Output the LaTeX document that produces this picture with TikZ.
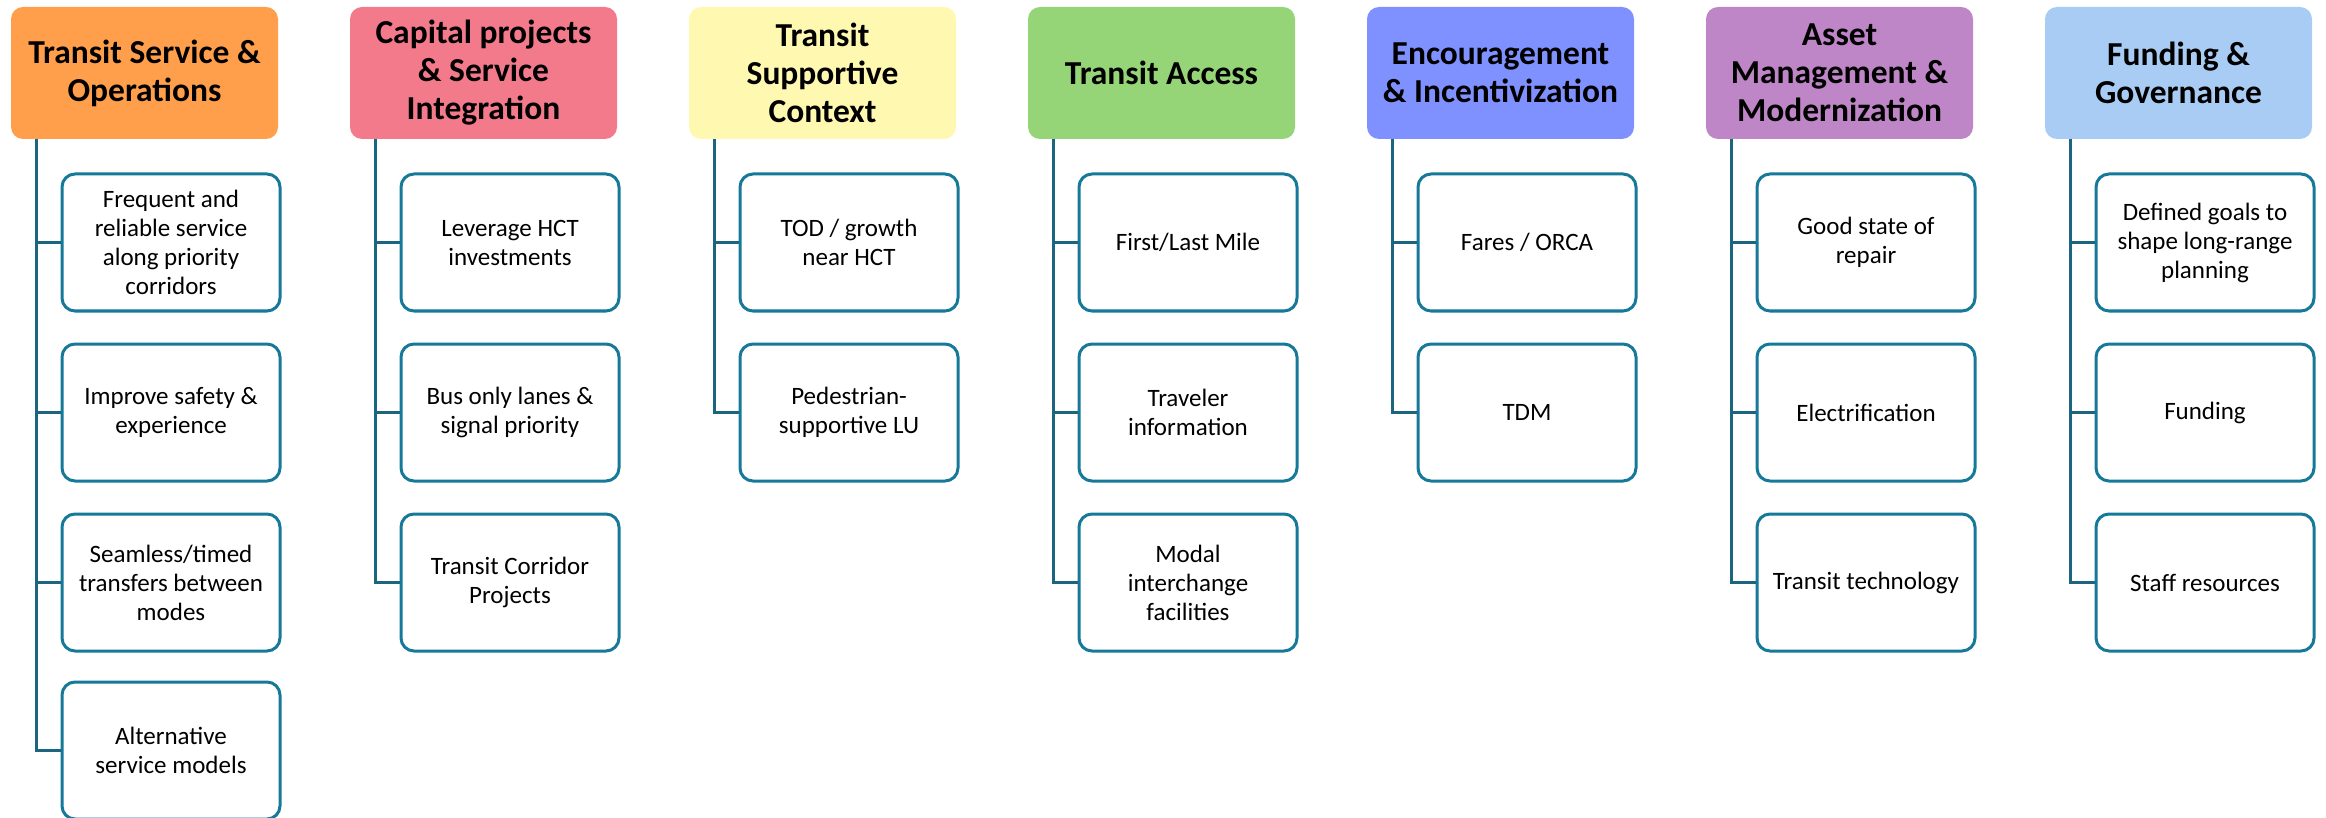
\documentclass[tikz,border=0pt]{standalone}
\usepackage{fontspec}
\setmainfont{Carlito}
\usetikzlibrary{calc}

\definecolor{cOrange}{HTML}{FF9F4B}
\definecolor{cPink}{HTML}{F37A8A}
\definecolor{cYellow}{HTML}{FFF8B0}
\definecolor{cGreen}{HTML}{95D577}
\definecolor{cBlue}{HTML}{7F91FF}
\definecolor{cPurple}{HTML}{BF86C7}
\definecolor{cSky}{HTML}{A8CCF4}
\definecolor{itemEdge}{HTML}{16799A}
\definecolor{trunk}{HTML}{1B6580}

\tikzset{
  head/.style={rounded corners=12pt, minimum width=267pt, minimum height=132pt,
    inner sep=0pt, align=center, text=black,
    font=\fontsize{33.5}{38}\selectfont\bfseries},
  item/.style={draw=itemEdge, line width=3pt, rounded corners=13pt, fill=white,
    minimum width=218pt, minimum height=137pt, inner sep=0pt, align=center,
    text=black, font=\fontsize{25}{29}\selectfont},
  link/.style={draw=trunk, line width=3pt},
}

\begin{document}
\begin{tikzpicture}[x=1pt,y=-1pt]
\useasboundingbox (0,0) rectangle (2326,818);

% ---- category headers (column pitch 339) ----
\node[head, fill=cOrange] (h1) at (144.5,73) {Transit Service \&\\Operations};
\node[head, fill=cPink]   (h2) at (483.5,73) {Capital projects\\\& Service\\Integration};
\node[head, fill=cYellow] (h3) at (822.5,73) {Transit\\Supportive\\Context};
\node[head, fill=cGreen]  (h4) at (1161.5,73) {Transit Access};
\node[head, fill=cBlue]   (h5) at (1500.5,73) {Encouragement\\\& Incentivization};
\node[head, fill=cPurple] (h6) at (1839.5,73) {Asset\\Management \&\\Modernization};
\node[head, fill=cSky]    (h7) at (2178.5,73) {Funding \&\\Governance};

% ---- trunk start points, just under each header ----
\coordinate (t1) at (36,139);
\coordinate (t2) at (375,139);
\coordinate (t3) at (714,139);
\coordinate (t4) at (1053,139);
\coordinate (t5) at (1392,139);
\coordinate (t6) at (1731,139);
\coordinate (t7) at (2070,139);

% ---- items ----
\node[item] (c11) at (171,242.5) {Frequent and\\reliable service\\along priority\\corridors};
\node[item] (c12) at (171,412.5) {Improve safety \&\\experience};
\node[item] (c13) at (171,582.5) {Seamless/timed\\transfers between\\modes};
\node[item] (c14) at (171,750.5) {Alternative\\service models};

\node[item] (c21) at (510,242.5) {Leverage HCT\\investments};
\node[item] (c22) at (510,412.5) {Bus only lanes \&\\signal priority};
\node[item] (c23) at (510,582.5) {Transit Corridor\\Projects};

\node[item] (c31) at (849,242.5) {TOD / growth\\near HCT};
\node[item] (c32) at (849,412.5) {Pedestrian-\\supportive LU};

\node[item] (c41) at (1188,242.5) {First/Last Mile};
\node[item] (c42) at (1188,412.5) {Traveler\\information};
\node[item] (c43) at (1188,582.5) {Modal\\interchange\\facilities};

\node[item] (c51) at (1527,242.5) {Fares / ORCA};
\node[item] (c52) at (1527,412.5) {TDM};

\node[item] (c61) at (1866,242.5) {Good state of\\repair};
\node[item] (c62) at (1866,412.5) {Electrification};
\node[item] (c63) at (1866,582.5) {Transit technology};

\node[item] (c71) at (2205,242.5) {Defined goals to\\shape long-range\\planning};
\node[item] (c72) at (2205,412.5) {Funding};
\node[item] (c73) at (2205,582.5) {Staff resources};

% ---- connectors: trunk down the left, branch into each item ----
\draw[link] (t1) |- (c11.west); \draw[link] (t1) |- (c12.west);
\draw[link] (t1) |- (c13.west); \draw[link] (t1) |- (c14.west);
\draw[link] (t2) |- (c21.west); \draw[link] (t2) |- (c22.west);
\draw[link] (t2) |- (c23.west);
\draw[link] (t3) |- (c31.west); \draw[link] (t3) |- (c32.west);
\draw[link] (t4) |- (c41.west); \draw[link] (t4) |- (c42.west);
\draw[link] (t4) |- (c43.west);
\draw[link] (t5) |- (c51.west); \draw[link] (t5) |- (c52.west);
\draw[link] (t6) |- (c61.west); \draw[link] (t6) |- (c62.west);
\draw[link] (t6) |- (c63.west);
\draw[link] (t7) |- (c71.west); \draw[link] (t7) |- (c72.west);
\draw[link] (t7) |- (c73.west);
\end{tikzpicture}
\end{document}
